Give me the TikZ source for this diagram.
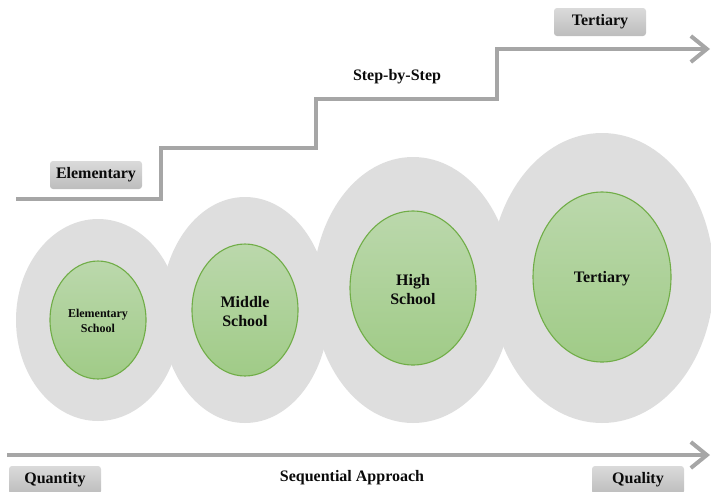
\documentclass[tikz,border=0pt]{standalone}
\usepackage{fontspec}
\setmainfont{Liberation Serif}
\usetikzlibrary{shapes.geometric,arrows.meta}
\definecolor{bggray}{HTML}{DEDEDE}
\definecolor{linegray}{HTML}{A6A6A6}
\definecolor{greentop}{HTML}{BBD8AC}
\definecolor{greenbot}{HTML}{A0CB87}
\definecolor{greenedge}{HTML}{70AD47}
\definecolor{boxtop}{HTML}{DADADA}
\definecolor{boxbot}{HTML}{BDBDBD}
\definecolor{txt}{HTML}{0A0A0A}
\tikzset{
  bgell/.style={ellipse, fill=bggray, draw=none, inner sep=0pt},
  greenell/.style={ellipse, top color=greentop, bottom color=greenbot, draw=greenedge, line width=1.1pt, inner sep=0pt, align=center, text=txt, font=\bfseries\fontsize{16}{19}\selectfont},
  labelbox/.style={rounded corners=3pt, top color=boxtop, bottom color=boxbot, draw=none, minimum width=92pt, minimum height=28pt, inner sep=0pt, text=txt, font=\bfseries\fontsize{16}{19}\selectfont},
  plaintext/.style={text=txt, inner sep=0pt, font=\bfseries\fontsize{16}{19}\selectfont},
  gline/.style={draw=linegray, line width=4pt},
  garrow/.style={gline, -{Straight Barb[length=16pt,width=26pt]}},
}
\begin{document}
\begin{tikzpicture}[x=1pt,y=-1pt]
\useasboundingbox (0,0) rectangle (711,491);
% background ellipses
\node[bgell, minimum width=164pt, minimum height=202pt] (g1) at (98,320) {};
\node[bgell, minimum width=168pt, minimum height=226pt] (g2) at (245,310) {};
\node[bgell, minimum width=200pt, minimum height=266pt] (g3) at (413,290) {};
\node[bgell, minimum width=224pt, minimum height=290pt] (g4) at (602,278) {};
% green ellipses
\node[greenell, minimum width=96pt, minimum height=118pt] (e1) at (98,320) {};
\node[greenell, minimum width=106pt, minimum height=132pt] (e2) at (245,310) {};
\node[greenell, minimum width=126pt, minimum height=154pt] (e3) at (413,288) {};
\node[greenell, minimum width=138pt, minimum height=170pt] (e4) at (602,277) {};
\node[plaintext, align=center, font=\bfseries\fontsize{12}{15}\selectfont] (t1) at ([yshift=-1pt]e1.center) {Elementary\\School};
\node[plaintext, align=center] (t2) at ([yshift=-2pt]e2.center) {Middle\\School};
\node[plaintext, align=center] (t3) at ([yshift=-2pt]e3.center) {High\\School};
\node[plaintext] (t4) at ([yshift=-2pt]e4.center) {Tertiary};
% step line
\coordinate (s0) at (16,199);
\coordinate (s1) at (161,199);
\coordinate (s2) at (161,148);
\coordinate (s3) at (316,148);
\coordinate (s4) at (316,99);
\coordinate (s5) at (497,99);
\coordinate (s6) at (497,49);
\coordinate (s7) at (710,49);
\draw[garrow, line join=miter] (s0) -- (s1) -- (s2) -- (s3) -- (s4) -- (s5) -- (s6) -- (s7);
% bottom arrow
\coordinate (b0) at (7,455);
\coordinate (b1) at (710,455);
\draw[garrow] (b0) -- (b1);
% labels
\node[labelbox] (lelem) at (96,175) {Elementary};
\node[labelbox] (lter) at (600,22) {Tertiary};
\node[labelbox] (lquan) at (55,480) {Quantity};
\node[labelbox] (lqual) at (638,480) {Quality};
\node[plaintext] (step) at (397,77) {Step-by-Step};
\node[plaintext] (seq) at (352,478) {Sequential Approach};
\end{tikzpicture}
\end{document}
